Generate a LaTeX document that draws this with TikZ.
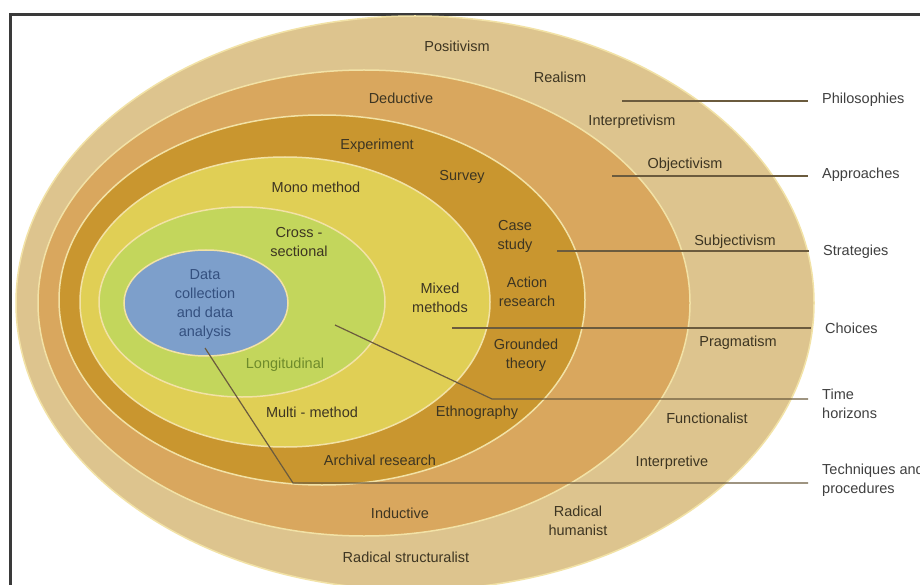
\documentclass[tikz,border=0pt]{standalone}
\usepackage{fontspec}
\setmainfont{Liberation Sans}
\usepackage{xcolor}
\usetikzlibrary{calc, positioning}

\definecolor{tanring}{HTML}{DDC48E}
\definecolor{orangering}{HTML}{D9A75E}
\definecolor{goldring}{HTML}{C9962F}
\definecolor{yellowring}{HTML}{E0CF55}
\definecolor{greenring}{HTML}{C3D65C}
\definecolor{bluering}{HTML}{7D9FCB}
\definecolor{ringedge}{HTML}{F2E2A6}
\definecolor{labeltext}{HTML}{3D3522}
\definecolor{leadcol}{HTML}{6B5B3E}
\definecolor{framecol}{HTML}{3A3A3A}
\definecolor{longtext}{HTML}{6E8B2B}
\definecolor{datatext}{HTML}{34507F}

\begin{document}
\begin{tikzpicture}[x=1pt, y=-1pt,
    ring/.style={draw=ringedge, line width=1.5pt},
    lbl/.style={font=\fontsize{14.5}{19}\selectfont, text=labeltext, align=center, inner sep=0pt},
    side/.style={lbl, text=black!75, align=left, anchor=west},
    leader/.style={draw=leadcol, line width=1.2pt, shorten >=14pt}]

  \useasboundingbox (0,0) rectangle (920,585);
  \clip (0,0) rectangle (920,585);
  \fill[white] (0,0) rectangle (920,585);
  \draw[framecol, line width=3pt] (10,15) rectangle (940,610);

  % onion layers, outside in
  \fill[tanring, ring] (415,303) ellipse [x radius=399, y radius=287];
  \fill[orangering, ring] (364,303) ellipse [x radius=326, y radius=233];
  \fill[goldring, ring] (322,300) ellipse [x radius=263, y radius=185];
  \fill[yellowring, ring] (285,302) ellipse [x radius=205, y radius=145];
  \fill[greenring, ring] (242,302) ellipse [x radius=143, y radius=95];
  \fill[bluering, ring] (206,303) ellipse [x radius=82, y radius=53];

  % philosophies
  \node[lbl] (posit) at (457,46) {Positivism};
  \node[lbl] (realism) at (560,77) {Realism};
  \node[lbl] (interpv) at (632,122) {Interpretivism};
  \node[lbl] (object) at (685,165) {Objectivism};
  \node[lbl] (subject) at (735,242) {Subjectivism};
  \node[lbl] (pragma) at (738,343) {Pragmatism};
  \node[lbl] (funct) at (707,418) {Functionalist};
  \node[lbl] (interp) at (672,463) {Interpretive};
  \node[lbl] (radhum) at (578,521) {Radical\\humanist};
  \node[lbl] (radstr) at (406,557) {Radical structuralist};

  % approaches
  \node[lbl] (deduct) at (401,98) {Deductive};
  \node[lbl] (induct) at (400,513) {Inductive};

  % strategies
  \node[lbl] (exper) at (377,146) {Experiment};
  \node[lbl] (survey) at (462,177) {Survey};
  \node[lbl] (casest) at (515,236) {Case\\study};
  \node[lbl] (action) at (527,292) {Action\\research};
  \node[lbl] (ground) at (526,355) {Grounded\\theory};
  \node[lbl] (ethno) at (477,413) {Ethnography};
  \node[lbl] (archiv) at (380,460) {Archival research};

  % choices
  \node[lbl] (mono) at (316,187) {Mono method};
  \node[lbl] (mixed) at (440,298) {Mixed\\methods};
  \node[lbl] (multi) at (312,412) {Multi - method};

  % time horizons
  \node[lbl] (cross) at (299,242) {Cross -\\sectional};
  \node[lbl, text=longtext] (longit) at (285,365) {Longitudinal};

  % core
  \node[lbl, text=datatext] (core) at (205,305) {Data\\collection\\and data\\analysis};

  % side labels
  \node[side] (philo) at (822,100) {Philosophies};
  \node[side] (appro) at (822,175) {Approaches};
  \node[side] (strat) at (823,252) {Strategies};
  \node[side] (choice) at (825,328) {Choices};
  \node[side, anchor=north west] (timeh) at (822,389) {Time\\horizons};
  \node[side, anchor=north west] (techn) at (822,464) {Techniques and\\procedures};

  \coordinate (philofoot) at (622,101);
  \coordinate (approfoot) at (612,176);
  \coordinate (stratfoot) at (557,251);
  \coordinate (choicefoot) at (452,328);
  \coordinate (timefoot) at (335,325);
  \coordinate (timebend) at (492,399);
  \coordinate (technfoot) at (205,348);
  \coordinate (technbend) at (293,483);

  \draw[leader] (philofoot) -- (philofoot -| philo.west);
  \draw[leader] (approfoot) -- (approfoot -| appro.west);
  \draw[leader] (stratfoot) -- (stratfoot -| strat.west);
  \draw[leader] (choicefoot) -- (choicefoot -| choice.west);
  \draw[leader] (timefoot) -- (timebend) -- (timebend -| timeh.west);
  \draw[leader] (technfoot) -- (technbend) -- (technbend -| techn.west);

\end{tikzpicture}
\end{document}
